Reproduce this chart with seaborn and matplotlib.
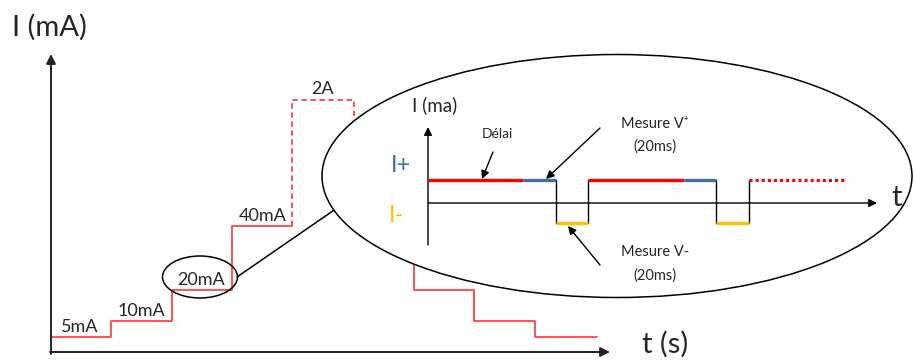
import numpy as np
import pandas as pd
import seaborn as sns
import matplotlib.pyplot as plt
from matplotlib.patches import Ellipse

# -------------------------
# DATA (diagram units = pixels of the 914x361 canvas, y downwards)
# -------------------------
up_x = [51, 111, 111, 172, 172, 232, 232, 292]
up_y = [337, 337, 321, 321, 290, 290, 226, 226]
peak_x = [292, 292, 354, 354]
peak_y = [226, 100, 100, 140]
down_x = [414, 414, 474, 474, 535, 535, 597]
down_y = [240, 290, 290, 321, 321, 337, 337]

step_labels = ["5mA", "10mA", "20mA", "40mA", "2A"]
step_label_x = [80, 141, 201, 263, 322]
step_label_y = [327, 311, 280, 216, 89]

# zoom: pulse train
i_plus, i_minus, zero = 180, 223, 203
red_seg = [(428, 523), (588, 684)]
blue_seg = [(523, 556), (684, 716)]
yellow_seg = [(556, 588), (716, 749)]
dotted_seg = (749, 845)

RED = "#ff4545"
BLUE = "#3f6ea6"
YELLOW = "#ffc000"

sns.set_theme(style="white")
plt.rcParams["font.family"] = ["Lato", "DejaVu Sans"]

fig = plt.figure(figsize=(9.14, 3.61), dpi=100)
ax = fig.add_axes([0, 0, 1, 1])
ax.set_xlim(0, 914)
ax.set_ylim(361, 0)
ax.axis("off")

# -------------------------
# MAIN STAIRCASE
# -------------------------
sns.lineplot(x=up_x, y=up_y, sort=False, estimator=None, color=RED, lw=1.3, ax=ax, zorder=1)
sns.lineplot(x=peak_x, y=peak_y, sort=False, estimator=None, color=RED, lw=1.3,
             linestyle=(0, (3, 2)), ax=ax, zorder=1)
sns.lineplot(x=down_x, y=down_y, sort=False, estimator=None, color=RED, lw=1.3, ax=ax, zorder=1)

for lab, lx, ly in zip(step_labels, step_label_x, step_label_y):
    ax.text(lx, ly, lab, fontsize=13, ha="center", va="center", zorder=5)

# main axes
arr = dict(arrowstyle="-|>", color="#222222", lw=1.4, mutation_scale=14, shrinkA=0, shrinkB=0)
ax.annotate("", xy=(51, 54), xytext=(51, 354), arrowprops=arr)
ax.annotate("", xy=(610, 352), xytext=(50, 352), arrowprops=arr)
ax.text(49, 27, "I (mA)", fontsize=21, ha="center", va="center")
ax.text(665, 344, "t (s)", fontsize=21, ha="center", va="center")

# -------------------------
# ZOOM ELLIPSES
# -------------------------
ax.plot([237, 340], [277, 206], color="black", lw=1.1, zorder=1.5)
ax.add_patch(Ellipse((200, 277), 75, 42, facecolor="none", edgecolor="black", lw=1.1, zorder=3))
ax.add_patch(Ellipse((617, 176), 590, 243, facecolor="white", edgecolor="black", lw=1.1, zorder=2))

# -------------------------
# PULSE TRAIN INSIDE ZOOM
# -------------------------
arr2 = dict(arrowstyle="-|>", color="black", lw=1.0, mutation_scale=12, shrinkA=0, shrinkB=0)
ax.annotate("", xy=(428, 127), xytext=(428, 245), arrowprops=arr2, zorder=4)
ax.annotate("", xy=(877, zero), xytext=(428, zero), arrowprops=arr2, zorder=4)

for a, b in red_seg:
    ax.plot([a, b], [i_plus, i_plus], color="#ff0000", lw=2.4, zorder=5, solid_capstyle="butt")
for a, b in blue_seg:
    ax.plot([a, b], [i_plus, i_plus], color=BLUE, lw=2.4, zorder=5, solid_capstyle="butt")
for a, b in yellow_seg:
    ax.plot([a, b], [i_minus, i_minus], color=YELLOW, lw=2.4, zorder=5, solid_capstyle="butt")
    ax.plot([a, a], [i_plus, i_minus], color="black", lw=1.0, zorder=4)
    ax.plot([b, b], [i_plus, i_minus], color="black", lw=1.0, zorder=4)
ax.plot(list(dotted_seg), [i_plus, i_plus], color="#ff0000", lw=2.2, linestyle=(0, (1, 1)), zorder=5)

ax.text(435, 105, "I (ma)", fontsize=13.5, ha="center", va="center", zorder=6)
ax.text(401, 166, "I+", fontsize=17, color=BLUE, ha="center", va="center", zorder=6)
ax.text(397, 216, "I-", fontsize=17, color=YELLOW, ha="center", va="center", zorder=6)
ax.text(897, 198, "t", fontsize=21, ha="center", va="center", zorder=6)

ax.text(497, 134, "Délai", fontsize=10, ha="center", va="center", zorder=6)
ax.annotate("", xy=(482, 179), xytext=(493, 152), arrowprops=arr2, zorder=6)

ax.text(655, 124, "Mesure V⁺", fontsize=10.5, ha="center", va="center", zorder=6)
ax.text(655, 147, "(20ms)", fontsize=10.5, ha="center", va="center", zorder=6)
ax.annotate("", xy=(546, 179), xytext=(600, 128), arrowprops=arr2, zorder=6)

ax.text(655, 252, "Mesure V-", fontsize=10.5, ha="center", va="center", zorder=6)
ax.text(655, 276, "(20ms)", fontsize=10.5, ha="center", va="center", zorder=6)
ax.annotate("", xy=(568, 226), xytext=(600, 265), arrowprops=arr2, zorder=6)

fig.savefig("out.png", dpi=100)
